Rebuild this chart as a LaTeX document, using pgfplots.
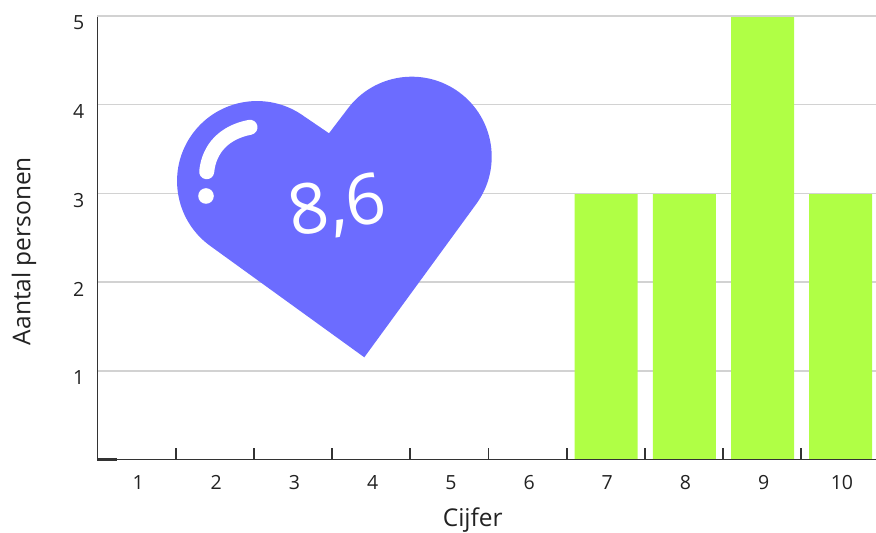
\documentclass[border=0pt]{standalone}
\usepackage{fontspec}
\setmainfont{Open Sans}
\usepackage{pgfplots}
\pgfplotsset{compat=1.18}
\definecolor{barc}{HTML}{B0FF45}
\definecolor{heartc}{HTML}{6C6CFF}
\definecolor{axc}{HTML}{333333}
\definecolor{gridc}{HTML}{D2D2D2}
\definecolor{txtc}{HTML}{222222}
\begin{document}
\begin{tikzpicture}[x=1pt,y=1pt]
\useasboundingbox (0,0) rectangle (876,533);
\begin{axis}[
  at={(97.5pt,73.5pt)},anchor=south west,
  scale only axis,width=778.5pt,height=443.5pt,clip=false,
  xmin=0.5,xmax=10.455,ymin=0,ymax=5,
  axis x line=bottom,axis y line=left,
  axis line style={-,draw=axc,line width=1.7pt},
  ytick={1,2,3,4,5},
  xtick={1,2,3,4,5,6,7,8,9,10},
  minor xtick={1.5,2.5,3.5,4.5,5.5,6.5,7.5,8.5,9.5},
  major tick length=0pt,
  minor tick length=12pt,
  tick align=inside,
  minor tick style={draw=axc,line width=1.7pt},
  major tick style={draw=none},
  ymajorgrids,
  grid style={draw=gridc,line width=1.6pt},
  /pgf/number format/assume math mode=true,
  tick label style={font=\fontsize{19.5pt}{21pt}\selectfont,text=txtc,inner sep=0pt},
  xticklabel style={anchor=north,yshift=-15.5pt,xshift=1.5pt},
  yticklabel style={anchor=east,xshift=-13pt,yshift=-7pt},
  xlabel={Cijfer},ylabel={Aantal personen},
  label style={font=\fontsize{24.5pt}{27pt}\selectfont,text=txtc,inner sep=0pt},
  xlabel style={at={(axis description cs:0.482,-0.136)},anchor=center},
  ylabel style={at={(axis description cs:-0.0944,0.47)},anchor=center},
]
\addplot[ybar,bar width=63pt,bar shift=0.3pt,fill=barc,draw=none] coordinates {
  (1,0) (2,0) (3,0) (4,0) (5,0) (6,0) (7,3) (8,3) (9,5) (10,3)
};
\draw[draw=gridc,line width=1.6pt] (axis cs:0.5,5) -- (axis cs:10.455,5);
\draw[draw=gridc,line width=1.6pt] (axis cs:6.5,3) -- (axis cs:8.5,3);
\draw[draw=gridc,line width=1.6pt] (axis cs:9.5,3) -- (axis cs:10.455,3);
\draw[draw=axc,line width=1.9pt] (axis cs:0.5,0) -- (axis cs:10.455,0);
\draw[draw=axc,line width=2.4pt] (axis cs:0.5,0) -- (axis cs:0.75,0);
\end{axis}
% heart (decoration), coordinates in pixels with y measured from the top
\begin{scope}[shift={(0,533)}]
\fill[heartc]
  (329,-133.3) -- (347.5,-109)
  arc[start angle=143.4,end angle=-36.3,radius=80]
  -- (364.3,-357.3) -- (209.8,-245.6)
  arc[start angle=233.8,end angle=54.5,radius=80]
  -- cycle;
\draw[white,line width=15pt,line cap=round]
  (206.7,-171.7) .. controls (209,-148) and (225,-132) .. (250,-127.3);
\fill[white] (206,-196) circle[radius=7.8];
\node[white,rotate=9,inner sep=0pt,font=\fontsize{70pt}{76pt}\selectfont] at (337.5,-208) {8,6};
\end{scope}
\end{tikzpicture}
\end{document}
